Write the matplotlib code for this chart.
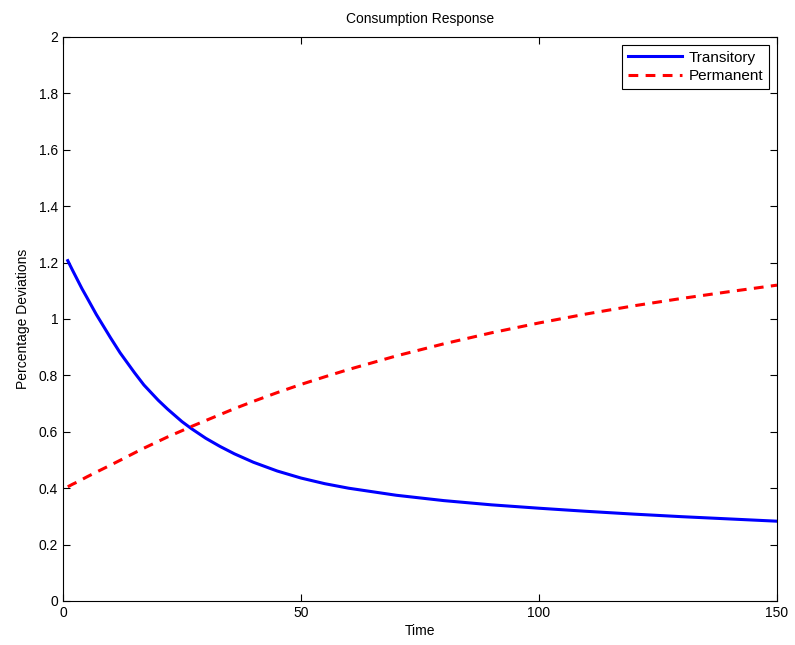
import numpy as np
import matplotlib.pyplot as plt

plt.rcParams['font.family'] = ['Liberation Sans', 'DejaVu Sans']

# impulse responses read at selected horizons
time = [1, 2, 3, 4, 5, 7, 10, 12, 15, 17, 20, 22, 25, 27, 30, 33, 36, 40,
        45, 50, 55, 60, 70, 80, 90, 100, 110, 120, 130, 140, 150]
transitory = [1.207, 1.173, 1.140, 1.107, 1.077, 1.016, 0.933, 0.880, 0.810,
              0.766, 0.712, 0.680, 0.636, 0.611, 0.577, 0.548, 0.522, 0.492,
              0.461, 0.436, 0.416, 0.400, 0.375, 0.356, 0.341, 0.329, 0.318,
              0.308, 0.299, 0.291, 0.283]
permanent = [0.405, 0.414, 0.422, 0.431, 0.440, 0.457, 0.482, 0.499, 0.525,
             0.542, 0.566, 0.582, 0.604, 0.619, 0.640, 0.661, 0.682, 0.708,
             0.739, 0.768, 0.795, 0.821, 0.869, 0.912, 0.951, 0.986, 1.018,
             1.047, 1.073, 1.097, 1.120]

xticks = [0, 50, 100, 150]
yticks = np.arange(0, 2.01, 0.2)


def main():
    fig = plt.figure(figsize=(7.95, 6.45), dpi=100)
    ax = fig.add_axes([63 / 795, 44 / 645, 714 / 795, 564 / 645])

    ax.plot(time, transitory, color='blue', lw=2.2, label='Transitory')
    ax.plot(time, permanent, color='red', lw=2.2, ls=(0, (3.2, 2.4)),
            label='Permanent')

    ax.set_xlim(0, 150)
    ax.set_ylim(0, 2)
    ax.set_xticks(xticks)
    ax.set_yticks(yticks)
    ax.set_yticklabels(['0' if v == 0 else ('%g' % round(v, 1)) for v in yticks])
    ax.tick_params(direction='in', top=True, right=True, labelsize=10,
                   length=5, width=0.8)
    for s in ax.spines.values():
        s.set_linewidth(0.8)

    ax.set_xlabel('Time', fontsize=10, labelpad=3)
    ax.set_ylabel('Percentage Deviations', fontsize=10, labelpad=6)
    ax.set_title('Consumption Response', fontsize=10, pad=10)

    leg = ax.legend(loc='upper right', fontsize=11, fancybox=False,
                    framealpha=1, edgecolor='black', borderaxespad=0.5,
                    handlelength=3.5, labelspacing=0.3, borderpad=0.4,
                    handletextpad=0.45)
    leg.get_frame().set_linewidth(0.8)

    fig.savefig('out.png', dpi=100)
    plt.close(fig)


if __name__ == '__main__':
    main()
